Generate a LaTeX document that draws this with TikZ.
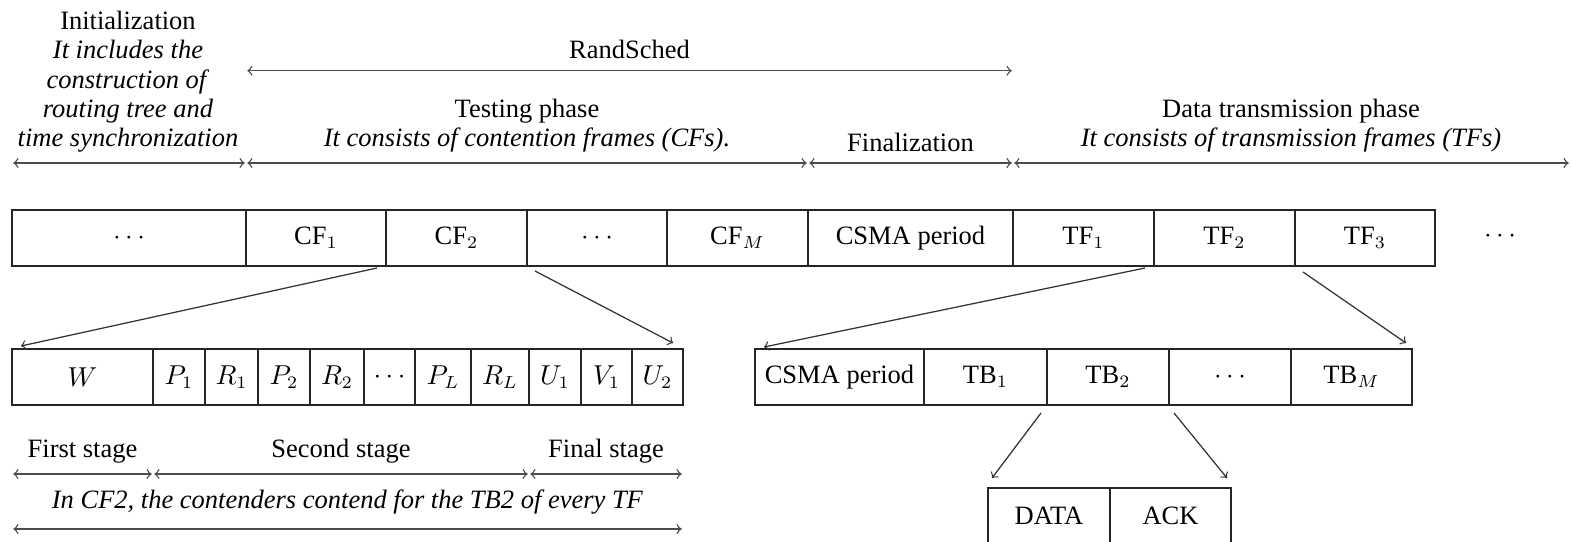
\documentclass[tikz,border=0pt]{standalone}
\usepackage{fontspec}
\setmainfont{Liberation Serif}

% one framed cell of a frame row: name, left x, right x, top y, bottom y, text
\newcommand\framecell[6]{%
  \node[cellbox, minimum width={(#3-#2)*0.4pt}, minimum height={(#5-#4)*0.4pt}]
    (#1) at ({(#2+#3)/2},{(#4+#5)/2}) {#6};}

\begin{document}
\begin{tikzpicture}[x=0.4pt, y=-0.4pt,
  every node/.style={font=\fontsize{10.6pt}{11.7pt}\selectfont, inner sep=0pt, outer sep=0pt},
  cellbox/.style={draw=black!85, line width=0.8pt},
  txt/.style={anchor=base, align=center},
  span/.style={<->, draw=black!70, line width=0.55pt, shorten <=0.5pt, shorten >=0.5pt},
  link/.style={->, draw=black!80, line width=0.5pt}]
\useasboundingbox (0,0) rectangle (1572,541);

% ---- top row: the whole schedule ----
\framecell{d0}{12}{246}{210}{266}{$\cdots$}
\framecell{cf1}{246}{386}{210}{266}{CF$_1$}
\framecell{cf2}{386}{527}{210}{266}{CF$_2$}
\framecell{cfd}{527}{667}{210}{266}{$\cdots$}
\framecell{cfm}{667}{808}{210}{266}{CF$_M$}
\framecell{csma}{808}{1013}{210}{266}{CSMA period}
\framecell{tf1}{1013}{1154}{210}{266}{TF$_1$}
\framecell{tf2}{1154}{1295}{210}{266}{TF$_2$}
\framecell{tf3}{1295}{1435}{210}{266}{TF$_3$}
\node (tfd) at (1500,236) {$\cdots$};

% ---- contention frame CF2 ----
\framecell{w}{12}{153}{349}{405}{$W$}
\framecell{p1}{153}{205}{349}{405}{$P_1$}
\framecell{r1}{205}{258}{349}{405}{$R_1$}
\framecell{p2}{258}{310}{349}{405}{$P_2$}
\framecell{r2}{310}{364}{349}{405}{$R_2$}
\framecell{pd}{364}{415}{349}{405}{$\cdots$}
\framecell{pl}{415}{471}{349}{405}{$P_L$}
\framecell{rl}{471}{529}{349}{405}{$R_L$}
\framecell{u1}{529}{581}{349}{405}{$U_1$}
\framecell{v1}{581}{632}{349}{405}{$V_1$}
\framecell{u2}{632}{683}{349}{405}{$U_2$}

% ---- transmission frame TF2 ----
\framecell{cs2}{755}{924}{349}{405}{CSMA period}
\framecell{tb1}{924}{1047}{349}{405}{TB$_1$}
\framecell{tb2}{1047}{1169}{349}{405}{TB$_2$}
\framecell{tbd}{1169}{1291}{349}{405}{$\cdots$}
\framecell{tbm}{1291}{1412}{349}{405}{TB$_M$}

% ---- transmission block TB2 ----
\framecell{data}{988}{1110}{488}{544}{DATA}
\framecell{ack}{1110}{1231}{488}{544}{ACK}

% ---- expansion links ----
\draw[link] ([shift={(-9,2)}]cf2.south west) -- ([shift={(9,-3)}]w.north west);
\draw[link] ([shift={(8,5)}]cf2.south east) -- ([shift={(-10,-6)}]u2.north east);
\draw[link] ([shift={(-9,2)}]tf2.south west) -- ([shift={(9,-2)}]cs2.north west);
\draw[link] ([shift={(8,6)}]tf3.south west) -- ([shift={(-6,-6)}]tbm.north east);
\draw[link] ([shift={(-6,8)}]tb2.south west) -- ([shift={(4,-10)}]data.north west);
\draw[link] ([shift={(5,8)}]tb2.south east) -- ([shift={(-4,-10)}]ack.north east);

% ---- phase annotations (multi-line nodes sit on their last baseline) ----
\node[txt] (init) at (128,146.7) {Initialization\\ \textit{It includes the}\\ \textit{construction of}\\ \textit{routing tree and}\\ \textit{time synchronization}};
\node[txt] (rs) at (629.5,58) {RandSched};
\node[txt] (test) at (527,146.7) {Testing phase\\ \textit{It consists of contention frames (CFs).}};
\node[txt] (fin) at (910.5,151.7) {Finalization};
\node[txt] (dtp) at (1291,146.7) {Data transmission phase\\ \textit{It consists of transmission frames (TFs)}};

\coordinate (r0) at (246,70.7);
\coordinate (r1) at (1013,70.7);
\coordinate (a0) at (12,163);
\coordinate (a1) at (246,163);
\coordinate (a2) at (808,163);
\coordinate (a3) at (1013,163);
\coordinate (a4) at (1570,163);
\draw[span] (r0) -- (r1);
\draw[span] (a0) -- (a1);
\draw[span] (a1) -- (a2);
\draw[span] (a2) -- (a3);
\draw[span] (a3) -- (a4);

% ---- stages of a contention frame ----
\node[txt] (st1) at (82.5,457.3) {First stage};
\node[txt] (st2) at (341,457.3) {Second stage};
\node[txt] (st3) at (606,457.3) {Final stage};
\node[txt] (note) at (347.5,508.3) {\textit{In CF2, the contenders contend for the TB2 of every TF}};

\coordinate (b0) at (12,474);
\coordinate (b1) at (153,474);
\coordinate (b2) at (529,474);
\coordinate (b3) at (683,474);
\coordinate (c0) at (12,529);
\coordinate (c1) at (683,529);
\draw[span] (b0) -- (b1);
\draw[span] (b1) -- (b2);
\draw[span] (b2) -- (b3);
\draw[span] (c0) -- (c1);
\end{tikzpicture}
\end{document}
